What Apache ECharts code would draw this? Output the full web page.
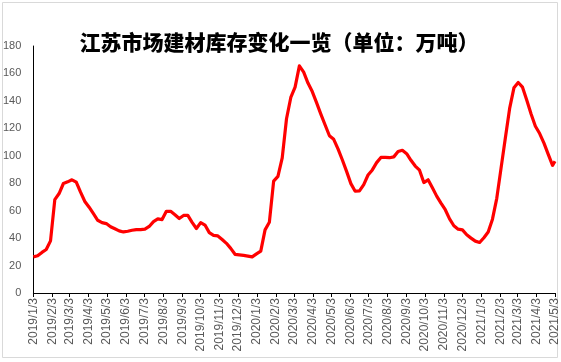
<!DOCTYPE html>
<html>
<head>
<meta charset="utf-8">
<script src="https://cdn.jsdelivr.net/npm/echarts@6/dist/echarts.min.js"></script>
<style>
html,body{margin:0;padding:0;background:#fff;}
#chart{width:561px;height:362px;}
</style>
</head>
<body>
<div id="chart"></div>
<script>
// ---- data ----
const titleText = '江苏市场建材库存变化一览（单位：万吨）';
const axisStart = '2019/1/3';
const axisEnd = '2021/5/3';
const firstWeek = '2019/1/3';   // weekly observations, every 7 days
const weekValues = [
  26.3, 27.1, 29.6, 31.7, 38, 68, 72.5, 79.8, 81, 82.5,
  80.8, 73.5, 66.7, 62.5, 57.8, 53, 51.3, 50.6, 48.3, 46.8,
  45.3, 44.5, 45, 45.7, 46.2, 46.2, 46.5, 48.5, 52, 54,
  53.5, 59.5, 59.5, 57, 54.3, 56.5, 56.5, 51.5, 47, 51.3,
  49.5, 44, 42, 41.6, 39, 36.2, 32.5, 28.2, 27.8, 27.4,
  26.9, 26.3, 28.5, 30.5, 46, 51.5, 81.5, 85, 98.5, 127,
  142.5, 150, 165.5, 161, 153, 146.8, 138.7, 130.4, 122.4, 114.6,
  112, 105, 97.1, 88.6, 79.7, 74.2, 74.4, 79, 86, 89.7,
  95, 98.8, 98.8, 98.6, 99.2, 103.1, 104, 101.5, 96.7, 92.5,
  89.5, 80.5, 82.5, 76.7, 70.6, 65.5, 60.7, 54, 49, 46.5,
  46, 42.4, 40, 37.8, 36.8, 40.3, 44.5, 53.8, 69, 91,
  113, 134.5, 149.5, 153.4, 150, 140.5, 130.5, 121.5, 116.2, 109.2,
  101, 93
];
const lastDate = '2021/5/3';
const lastValue = 96;
const yTicks = [0, 20, 40, 60, 80, 100, 120, 140, 160, 180];

// ---- build daily category axis ----
function parse(s){const p=s.split('/').map(Number);return Date.UTC(p[0],p[1]-1,p[2]);}
function fmt(t){const d=new Date(t);return d.getUTCFullYear()+'/'+(d.getUTCMonth()+1)+'/'+d.getUTCDate();}
const DAY = 86400000;
const days = [];
for (let t = parse(axisStart); t <= parse(axisEnd); t += DAY) days.push(fmt(t));
const seriesData = weekValues.map((v,i)=>[fmt(parse(firstWeek)+i*7*DAY), v]);
seriesData.push([lastDate, lastValue]);
const isTickDay = (idx, val) => /\/3$/.test(val);

const chart = echarts.init(document.getElementById('chart'), null, {renderer:'canvas'});
chart.setOption({
  animation:false,
  backgroundColor:'#ffffff',
  title:{
    text:titleText, left:274, top:27, textAlign:'center',
    textStyle:{fontFamily:'Noto Sans CJK SC', fontWeight:900, fontSize:21, color:'#000'}
  },
  graphic:[{type:'rect', shape:{x:2.5,y:2.5,width:555,height:355}, style:{fill:null, stroke:'#d9d9d9', lineWidth:1}, silent:true, z:-1}],
  grid:{left:33, right:6, top:46, bottom:69, containLabel:false},
  xAxis:{
    type:'category', data:days, boundaryGap:false,
    axisLine:{lineStyle:{color:'#000', width:1}},
    axisTick:{show:true, interval:isTickDay, length:4, lineStyle:{color:'#000'}},
    axisLabel:{interval:isTickDay, rotate:90, margin:5, color:'#595959', fontSize:12, fontFamily:'Liberation Sans'},
    splitLine:{show:false}
  },
  yAxis:{
    type:'value', min:yTicks[0], max:yTicks[yTicks.length-1], interval:20,
    axisLine:{show:true, lineStyle:{color:'#000', width:1}},
    axisTick:{show:false},
    axisLabel:{margin:12, color:'#595959', fontSize:11, fontFamily:'Liberation Sans'},
    splitLine:{show:false}
  },
  series:[{
    type:'line', data:seriesData, showSymbol:false, symbol:'none',
    lineStyle:{color:'#ff0000', width:3.2, join:'round'}, smooth:false
  }]
});
</script>
</body>
</html>
